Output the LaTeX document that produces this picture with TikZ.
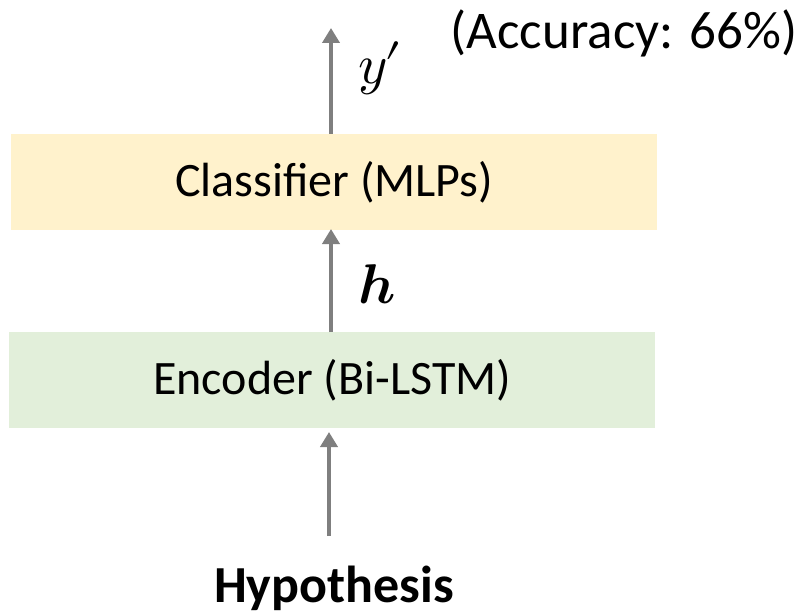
\documentclass[tikz,border=0pt]{standalone}
\usepackage{fontspec}
\usepackage{unicode-math}
\setmainfont{Carlito}
\setmathfont{Latin Modern Math}
\usetikzlibrary{arrows.meta}
\definecolor{clsfill}{HTML}{FFF2CC}
\definecolor{encfill}{HTML}{E2EFDA}
\definecolor{arrowgray}{HTML}{7F7F7F}
\begin{document}
\begin{tikzpicture}[x=1pt,y=-1pt,
  layer/.style={inner sep=0pt, anchor=north west},
  flow/.style={draw=arrowgray, line width=4pt,
    -{Triangle[width=17pt,length=15pt]}},
  boxtext/.style={font=\fontsize{48}{50}\selectfont},
  mathlabel/.style={font=\fontsize{56}{58}\selectfont}]
\useasboundingbox (0,0) rectangle (803,615);
% stacked layers
\node[layer, fill=clsfill, minimum width=646pt, minimum height=96pt] (cls) at (11,134) {};
\node[boxtext] at (cls.center) {Classifier (MLPs)};
\node[layer, fill=encfill, minimum width=646pt, minimum height=96pt] (enc) at (9,332) {};
\node[boxtext] at (enc.center) {Encoder (Bi-LSTM)};
% input and outputs
\node[font=\fontsize{52}{54}\selectfont\bfseries, anchor=base] (hyp) at (334,602) {Hypothesis};
\coordinate (inp) at (329,536);
\coordinate (out) at (331,28);
\node[font=\fontsize{53}{55}\selectfont] (acc) at (624,33) {(Accuracy: 66\%)};
% connectors
\draw[flow] (inp) -- (329,432);
\draw[flow] (331,332) -- (331,229);
\draw[flow] (331,134) -- (out);
\node[mathlabel, anchor=base west, inner sep=0pt] (yl) at (358,84) {$y\mkern-1mu\prime$};
\node[mathlabel, anchor=base west, inner sep=0pt] (hl) at (358,303) {$\symbfit{h}$};
\end{tikzpicture}
\end{document}
